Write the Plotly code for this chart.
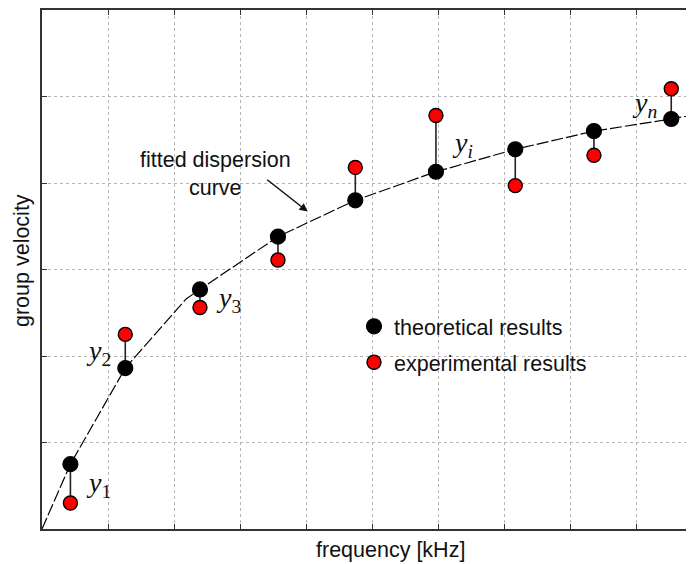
import plotly.graph_objects as go

# ---- data ----
freq = [0.43, 1.26, 2.39, 3.57, 4.74, 5.96, 7.16, 8.35, 9.52]
theoretical = [0.75, 1.86, 2.77, 3.38, 3.80, 4.13, 4.39, 4.60, 4.74]
experimental = [0.30, 2.25, 2.56, 3.11, 4.18, 4.78, 3.97, 4.32, 5.09]

curve_x = [0.0, 0.43, 1.26, 2.18, 2.39, 3.57, 4.74, 5.96, 7.16, 8.35, 9.52, 9.87]
curve_y = [0.0, 0.75, 1.86, 2.66, 2.77, 3.38, 3.80, 4.13, 4.39, 4.60, 4.74, 4.79]

x_ticks = [0, 1, 2, 3, 4, 5, 6, 7, 8, 9]
y_ticks = [0, 1, 2, 3, 4, 5, 6]

labels = ["1", "2", "3", "<i>i</i>", "<i>n</i>"]
label_idx = [0, 1, 2, 5, 8]
label_side = ["right", "left", "right", "right", "left"]

X_RANGE = [0, 9.864]
Y_RANGE = [0, 6]

# the page adds an 8px body margin; the figure is sized to compensate
W, H = 686, 556
ML, MT, MB = 34, 0, 35
PW, PH = W - ML, H - MT - MB
OFF = 8


def px_x(p):  # page pixel -> paper x
    return (p - OFF - ML) / PW


def px_y(p):  # page pixel -> paper y
    return (H - MB + OFF - p) / PH


fig = go.Figure()

# fitted dispersion curve
fig.add_trace(go.Scatter(
    x=curve_x, y=curve_y, mode="lines",
    line=dict(color="black", width=1.2, dash="12px,3px"),
    showlegend=False, hoverinfo="skip"))

# connectors between theoretical and experimental values
cx, cy = [], []
for f, t, e in zip(freq, theoretical, experimental):
    cx += [f, f, None]
    cy += [t, e, None]
fig.add_trace(go.Scatter(
    x=cx, y=cy, mode="lines", line=dict(color="#222", width=1.6),
    showlegend=False, hoverinfo="skip"))

fig.add_trace(go.Scatter(
    x=freq, y=theoretical, mode="markers", name="theoretical results",
    legendgroup="a",
    marker=dict(color="black", size=15, line=dict(color="black", width=1.2))))
fig.add_trace(go.Scatter(
    x=freq, y=experimental, mode="markers", name="experimental results",
    legendgroup="b",
    marker=dict(color="#ff0000", size=14, line=dict(color="black", width=1.4))))

SANS = "Liberation Sans, Arial"
FS = 21.5
annotations = []
for lab, i, side in zip(labels, label_idx, label_side):
    mid = (theoretical[i] + experimental[i]) / 2
    annotations.append(dict(
        x=freq[i], y=mid, xref="x", yref="y",
        text="<i>y</i><sub>%s</sub>" % lab, showarrow=False,
        xanchor="left" if side == "right" else "right",
        xshift=14 if side == "right" else -12, yshift=-1,
        font=dict(family="Liberation Serif", size=28, color="#111")))

annotations.append(dict(
    x=2.63, y=4.10, xref="x", yref="y",
    text="fitted dispersion<br>curve", showarrow=False,
    font=dict(family=SANS, size=FS, color="#111"),
    align="center"))
annotations.append(dict(
    x=4.02, y=3.67, xref="x", yref="y", text="", showarrow=True,
    ax=-42, ay=-33, arrowhead=2, arrowsize=1.1, arrowwidth=1.5,
    arrowcolor="#111"))
annotations.append(dict(
    x=px_x(390), y=px_y(550), xref="paper", yref="paper",
    text="frequency [kHz]", showarrow=False, yanchor="middle",
    font=dict(family=SANS, size=FS, color="#111")))
annotations.append(dict(
    x=px_x(22), y=px_y(260), xref="paper", yref="paper",
    text="group velocity", showarrow=False, textangle=-90,
    xanchor="center", yanchor="middle",
    font=dict(family=SANS, size=FS, color="#111")))

axis_common = dict(
    showgrid=True, gridcolor="#b5b5b5", griddash="dot", gridwidth=1,
    showline=True, linecolor="#333", linewidth=2,
    ticks="inside", ticklen=5, tickcolor="#333", tickwidth=1.3,
    showticklabels=False, zeroline=False)

fig.update_layout(
    width=W, height=H,
    margin=dict(l=ML, r=0, t=MT, b=MB),
    paper_bgcolor="white", plot_bgcolor="white",
    xaxis=dict(range=X_RANGE, tickvals=x_ticks, mirror="ticks", **axis_common),
    yaxis=dict(range=Y_RANGE, tickvals=y_ticks, mirror=False, **axis_common),
    showlegend=True,
    legend=dict(x=px_x(354), y=px_y(305), xanchor="left",
                yanchor="top", bgcolor="rgba(0,0,0,0)", tracegroupgap=5,
                font=dict(family=SANS, size=FS, color="#111")),
    annotations=annotations,
)

fig.write_html("out.html")
